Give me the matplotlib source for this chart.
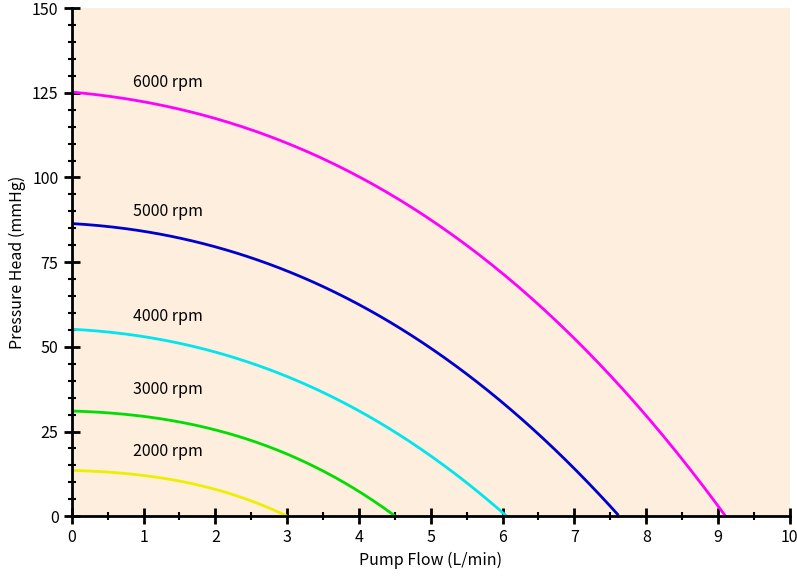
import matplotlib
matplotlib.use("Agg")
import matplotlib.pyplot as plt
import numpy as np
from matplotlib.ticker import MultipleLocator

plt.rcParams["font.family"] = "Noto Sans CJK JP"

flow_6000 = [0, 0.5, 1, 1.5, 2, 2.5, 3, 3.5, 4, 4.5, 5, 5.5, 6, 6.5, 7, 7.5, 8, 8.5, 9, 9.1]
head_6000 = [124.5, 124, 122.8, 120.8, 118, 114.5, 110, 105, 99.5, 93.5, 87, 80, 72, 63, 53, 42, 29.5, 16.5, 3, 0]
flow_5000 = [0, 0.5, 1, 1.5, 2, 2.5, 3, 3.5, 4, 4.5, 5, 5.5, 6, 6.5, 7, 7.5, 7.6]
head_5000 = [86, 85.6, 84.3, 82.5, 80, 76.5, 72, 67, 62, 56.5, 50, 42, 33.5, 24.5, 14.5, 3, 0]
flow_4000 = [0, 0.5, 1, 1.5, 2, 2.5, 3, 3.5, 4, 4.5, 5, 5.5, 6, 6.05]
head_4000 = [55, 54.5, 53.2, 51.2, 48.5, 45, 41, 36.5, 31, 25, 18, 10, 1, 0]
flow_3000 = [0, 0.5, 1, 1.5, 2, 2.5, 3, 3.5, 4, 4.5]
head_3000 = [31, 30.6, 29.5, 27.8, 25.5, 22.3, 18.3, 13.3, 7.5, 0]
flow_2000 = [0, 0.5, 1, 1.5, 2, 2.5, 3]
head_2000 = [13.5, 13.1, 12, 10.3, 8, 4.5, 0]

series = [
    ("6000 rpm", flow_6000, head_6000, "#ff00ff", 128),
    ("5000 rpm", flow_5000, head_5000, "#0000cd", 90),
    ("4000 rpm", flow_4000, head_4000, "#00e5ee", 59),
    ("3000 rpm", flow_3000, head_3000, "#00dd00", 37.5),
    ("2000 rpm", flow_2000, head_2000, "#eeee00", 19),
]

fig = plt.figure(figsize=(7.97, 5.80), dpi=100)
ax = fig.add_axes([0.090, 0.110, 0.901, 0.876])
ax.set_facecolor("#fdeede")
for label, x, y, c, ly in series:
    # smooth rendering of the read points
    coef = np.polyfit(x, y, 3)
    xs = np.linspace(x[0], x[-1], 200)
    ys = np.clip(np.polyval(coef, xs), 0, None)
    ax.plot(xs, ys, color=c, lw=2)
    ax.text(0.85, ly, label, fontsize=11.5, va="center")

ax.set_xlim(0, 10)
ax.set_ylim(0, 150)
ax.xaxis.set_major_locator(MultipleLocator(1))
ax.xaxis.set_minor_locator(MultipleLocator(0.5))
ax.yaxis.set_major_locator(MultipleLocator(25))
ax.yaxis.set_minor_locator(MultipleLocator(5))
for s in ["top", "right"]:
    ax.spines[s].set_visible(False)
for s in ["left", "bottom"]:
    ax.spines[s].set_linewidth(2)
ax.tick_params(which="major", direction="inout", length=12, width=2, labelsize=11.5)
ax.tick_params(which="minor", direction="inout", length=6, width=1.5)
ax.set_xlabel("Pump Flow (L/min)", fontsize=11.5)
ax.set_ylabel("Pressure Head (mmHg)", fontsize=11.5)
fig.savefig("out.png", dpi=100)
